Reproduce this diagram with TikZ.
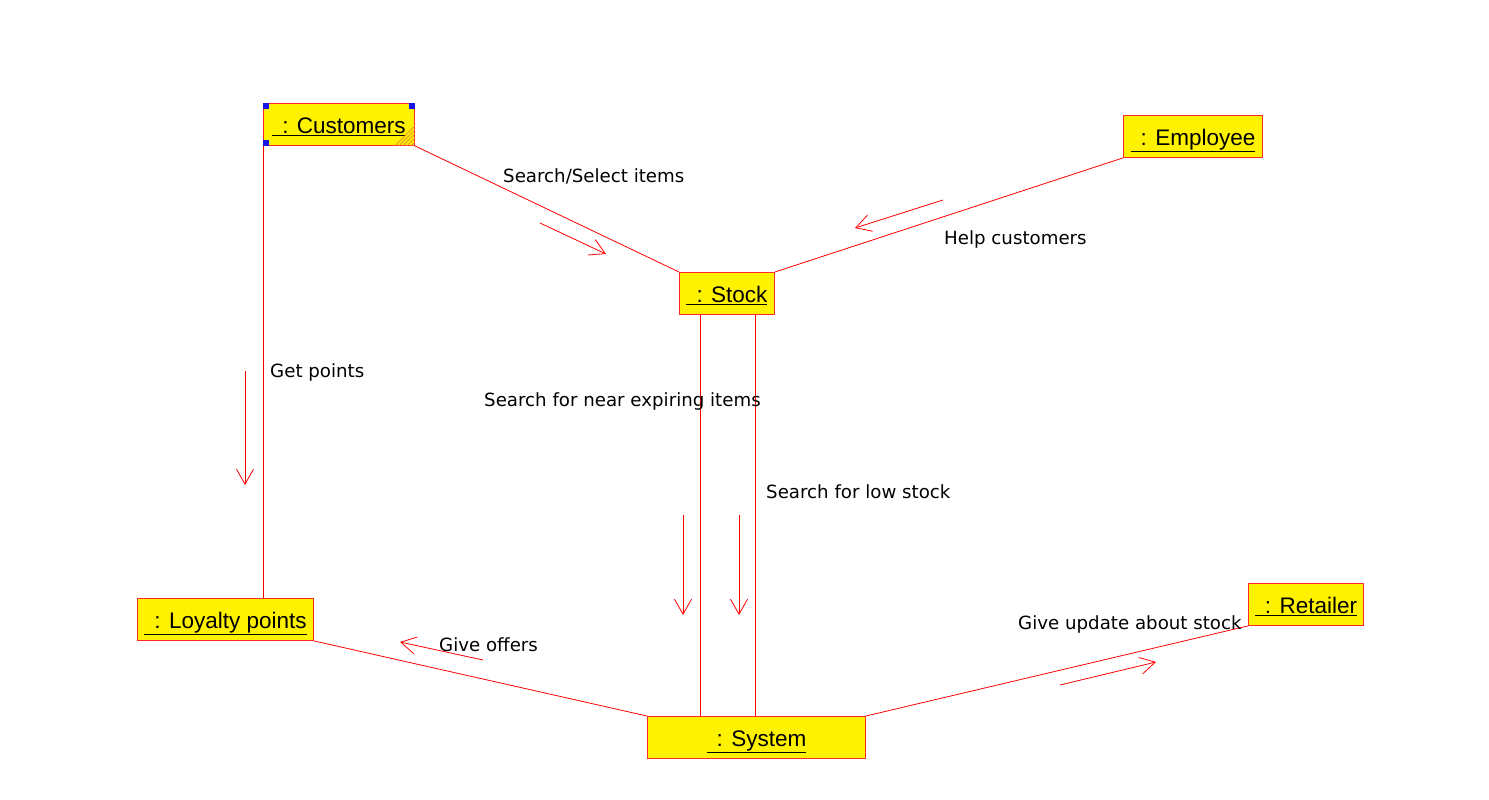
\documentclass[tikz,border=0pt]{standalone}
\usepackage{fontspec}
\setmainfont{Liberation Sans}
\newfontfamily\lblfont{DejaVu Sans}
\usetikzlibrary{arrows.meta,calc}
\definecolor{boxred}{RGB}{255,40,40}
\definecolor{hatch}{RGB}{235,150,40}
\definecolor{handle}{RGB}{20,20,230}
\newcommand\objname[1]{\underline{\hspace{0.45em}#1}}
\begin{document}
\begin{tikzpicture}[x=1pt,y=-1pt,
  obj/.style={draw=boxred, fill=yellow, line width=0.9pt, rectangle, inner sep=0pt,
    text height=20pt, text depth=2pt,
    font=\fontsize{22.5}{26}\selectfont, anchor=north west},
  link/.style={draw=red, line width=0.8pt},
  msg/.style={draw=red, line width=0.8pt, -{Straight Barb[length=15pt,width=17pt]}},
  lbl/.style={font=\lblfont\fontsize{18.2}{21}\selectfont, inner sep=0pt, anchor=base west}]
\useasboundingbox (0,0) rectangle (1489,800);

% objects
\node[obj, minimum width=151pt, minimum height=42pt] (cust) at (263,103) {\objname{: Customers}};
\node[obj, minimum width=139pt, minimum height=42pt] (emp)  at (1123,115) {\objname{: Employee}};
\node[obj, minimum width=95pt,  minimum height=42pt] (stock) at (679,272) {\objname{: Stock}};
\node[obj, minimum width=176pt, minimum height=42pt] (loy)  at (137,598) {\objname{: Loyalty points}};
\node[obj, minimum width=218pt, minimum height=42pt] (sys)  at (647,716) {\objname{: System}};
\node[obj, minimum width=115pt, minimum height=42pt] (ret)  at (1248,583) {\objname{: Retailer}};

% selection handles and hatch on Customers
\fill[handle] (cust.north west) rectangle ++(6,6);
\fill[handle] (cust.north east) rectangle ++(-6,6);
\fill[handle] (cust.south west) rectangle ++(6,-6);
\foreach \k in {4,8,12,16,20}
  \draw[hatch, line width=0.8pt] ($(cust.south east)+(-\k,0)$) -- ($(cust.south east)+(0,-\k)$);

% links
\draw[link] (cust.south east) -- (stock.north west);
\draw[link] (emp.south west) -- (stock.north east);
\draw[link] (cust.south west) -- (cust.south west |- loy.north);
\coordinate (s1) at ($(stock.south west)+(21,0)$);
\coordinate (s2) at ($(stock.south west)+(76,0)$);
\draw[link] (s1) -- (s1 |- sys.north);
\draw[link] (s2) -- (s2 |- sys.north);
\draw[link] (loy.south east) -- (sys.north west);
\draw[link] (sys.north east) -- (ret.south west);

% message arrows
\coordinate (m1a) at (540,223); \coordinate (m1b) at (606,254);
\coordinate (m2a) at (943,200); \coordinate (m2b) at (855,228);
\coordinate (m3a) at (245,371); \coordinate (m3b) at (245,485);
\coordinate (m4a) at (683,515); \coordinate (m4b) at (683,615);
\coordinate (m5a) at (739,515); \coordinate (m5b) at (739,615);
\coordinate (m6a) at (483,660); \coordinate (m6b) at (400,642);
\coordinate (m7a) at (1060,685); \coordinate (m7b) at (1156,662);
\draw[msg] (m1a) -- (m1b);
\draw[msg] (m2a) -- (m2b);
\draw[msg] (m3a) -- (m3b);
\draw[msg] (m4a) -- (m4b);
\draw[msg] (m5a) -- (m5b);
\draw[msg] (m6a) -- (m6b);
\draw[msg] (m7a) -- (m7b);

% labels
\node[lbl] (l1) at (503,182) {Search/Select items};
\node[lbl] (l2) at (944,244) {Help customers};
\node[lbl] (l3) at (270,377) {Get points};
\node[lbl] (l4) at (484,406) {Search for near expiring items};
\node[lbl] (l5) at (766,498) {Search for low stock};
\node[lbl] (l6) at (439,651) {Give offers};
\node[lbl] (l7) at (1018,629) {Give update about stock};
\end{tikzpicture}
\end{document}
